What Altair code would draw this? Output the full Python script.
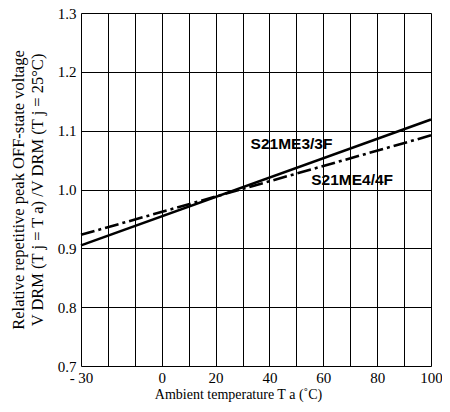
import altair as alt
import pandas as pd

# Data
temps = [-30, 100]
s21me3 = [0.905, 1.119]
s21me4 = [0.923, 1.092]

label_names = ["S21ME3/3F", "S21ME4/4F"]
label_x = [33, 55.5]
label_y = [1.077, 1.016]

x_grid = list(range(-30, 101, 10))
x_labelled = [-30, 0, 20, 40, 60, 80, 100]
y_ticks = [0.7, 0.8, 0.9, 1.0, 1.1, 1.2, 1.3]

df = pd.DataFrame({
    "T": temps * 2,
    "V": s21me3 + s21me4,
    "series": ["S21ME3/3F"] * 2 + ["S21ME4/4F"] * 2,
})
lab = pd.DataFrame({"name": label_names, "T": label_x, "V": label_y})

serif = "Liberation Serif"
sans = "Liberation Sans"

xscale = alt.Scale(domain=[-30, 100], nice=False, zero=False)
yscale = alt.Scale(domain=[0.7, 1.3], nice=False, zero=False)

shown = "[" + ",".join(str(v) for v in x_labelled) + "]"
xaxis = alt.Axis(
    values=x_grid,
    labelExpr="datum.value == -30 ? '- 30' : (indexof(" + shown + ", datum.value) >= 0 ? toString(datum.value) : '')",
    ticks=False, labelPadding=4, domain=False,
    grid=True, gridColor="black", gridWidth=1, gridOpacity=1,
    labelFont=serif, labelFontSize=15, labelColor="black",
    title="Ambient temperature T a (˚C)", titleFont=serif, titleFontSize=14,
    titleFontWeight="normal", titleColor="black", titlePadding=2,
    titleX=157, titleAnchor="start", titleAlign="center",
    labelOverlap=False, labelBound=False, labelFlush=False,
)
yaxis = alt.Axis(
    values=y_ticks,
    format=".1f", ticks=False, labelPadding=5, domain=False,
    grid=True, gridColor="black", gridWidth=1, gridOpacity=1,
    labelFont=serif, labelFontSize=15, labelColor="black",
    labelOverlap=False, labelBound=False, labelFlush=False,
    title=["Relative repetitive peak OFF-state voltage",
           "V DRM  (T j = T a) /V DRM  (T j = 25°C)"],
    titleFont=serif, titleFontSize=16.5, titleFontWeight="normal",
    titleColor="black", titlePadding=12, titleLineHeight=19,
)

X = alt.X("T:Q", scale=xscale, axis=xaxis)
Y = alt.Y("V:Q", scale=yscale, axis=yaxis)

base = alt.Chart(df)

solid = base.transform_filter(alt.datum.series == "S21ME3/3F").mark_line(
    color="black", strokeWidth=2.6
).encode(x=X, y=Y)
dashdot = base.transform_filter(alt.datum.series == "S21ME4/4F").mark_line(
    color="black", strokeWidth=2.6, strokeDash=[14, 4, 3, 4]
).encode(x=X, y=Y)
texts = alt.Chart(lab).mark_text(
    font=sans, fontSize=15.5, fontWeight="bold", align="left", baseline="middle",
    color="black"
).encode(x=X, y=Y, text="name:N")

chart = alt.layer(solid, dashdot, texts).properties(
    width=350, height=353,
    autosize=alt.AutoSizeParams(type="none"),
    padding={"left": 73, "top": 5, "right": 11, "bottom": 38},
).configure_view(stroke="black", strokeWidth=1.5).configure(background="white")

chart.save("out.html", embed_options={"renderer": "svg", "actions": False})
